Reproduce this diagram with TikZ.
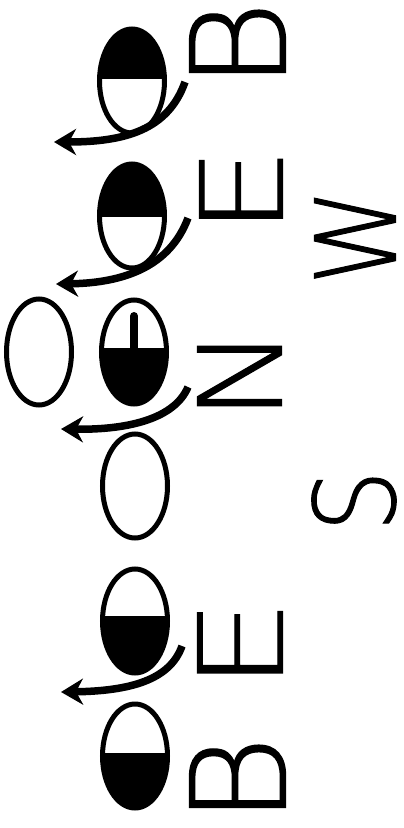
\documentclass[tikz,border=0pt]{standalone}
\usepackage{fontspec}
\newfontfamily\thinfont{DejaVu Sans ExtraLight}[FakeBold=1.0]
\usetikzlibrary{arrows.meta,shapes.geometric}
\newcommand\glyphbox[3]{\resizebox{#1}{#2}{\thinfont #3}}
\begin{document}
\begin{tikzpicture}[x=1pt,y=-1pt,
  egg/.style={ellipse,draw,line width=5pt,minimum width=65pt,minimum height=104pt,inner sep=0pt,outer sep=0pt},
  topblack/.style={path picture={\fill[black] (path picture bounding box.north west) rectangle ([yshift=#1]path picture bounding box.east);}},
  botblack/.style={path picture={\fill[black] ([yshift=#1]path picture bounding box.west) rectangle (path picture bounding box.south east);}},
  arr/.style={line width=7.5pt,-{Stealth[length=22pt,width=26pt,inset=7pt]}},
  tickline/.style={line width=8pt,line cap=round},
  letter/.style={rotate=90,inner sep=0pt,outer sep=0pt}
]
\fill[white] (0,0) rectangle (404,828);
\useasboundingbox (0,0) rectangle (404,828);
% eggs
\node[egg,topblack=2pt] (e1) at (132,81) {};
\node[egg,topblack=-1pt] (e2) at (132,216) {};
\node[egg,minimum height=106pt] (e3) at (39,352) {};
\node[egg,botblack=4pt] (e4) at (134,352) {};
\node[egg] (e5) at (135,486) {};
\node[egg,botblack=5pt] (e6) at (135,621) {};
\node[egg,botblack=3pt] (e7) at (135,756) {};
\draw[tickline] ([yshift=4pt]e4.center) -- ++(0,-32);
% arrows
\coordinate (a1s) at (185,82);  \coordinate (a1e) at (54,142);
\coordinate (a2s) at (188,218); \coordinate (a2e) at (56,284);
\coordinate (a3s) at (188,387); \coordinate (a3e) at (61,429);
\coordinate (a4s) at (182,646); \coordinate (a4e) at (61,692);
\draw[arr] (a1s) .. controls (168,130) and (125,142) .. (a1e);
\draw[arr] (a2s) .. controls (170,266) and (125,283) .. (a2e);
\draw[arr] (a3s) .. controls (175,418) and (130,430) .. (a3e);
\draw[arr] (a4s) .. controls (170,680) and (130,691) .. (a4e);
% letters
\node[letter] (b1) at (237.5,45) {\glyphbox{88pt}{96pt}{B}};
\node[letter] (eA) at (241,191) {\glyphbox{88pt}{83pt}{E}};
\node[letter] (w1) at (355,237) {\glyphbox{96pt}{81pt}{W}};
\node[letter] (n1) at (239.5,374) {\glyphbox{94pt}{84pt}{N}};
\node[letter] (s1) at (354,501) {\glyphbox{62pt}{83pt}{S}};
\node[letter] (eB) at (240,644.5) {\glyphbox{92pt}{85pt}{E}};
\node[letter] (b2) at (237.5,780) {\glyphbox{88pt}{96pt}{B}};
\end{tikzpicture}
\end{document}
